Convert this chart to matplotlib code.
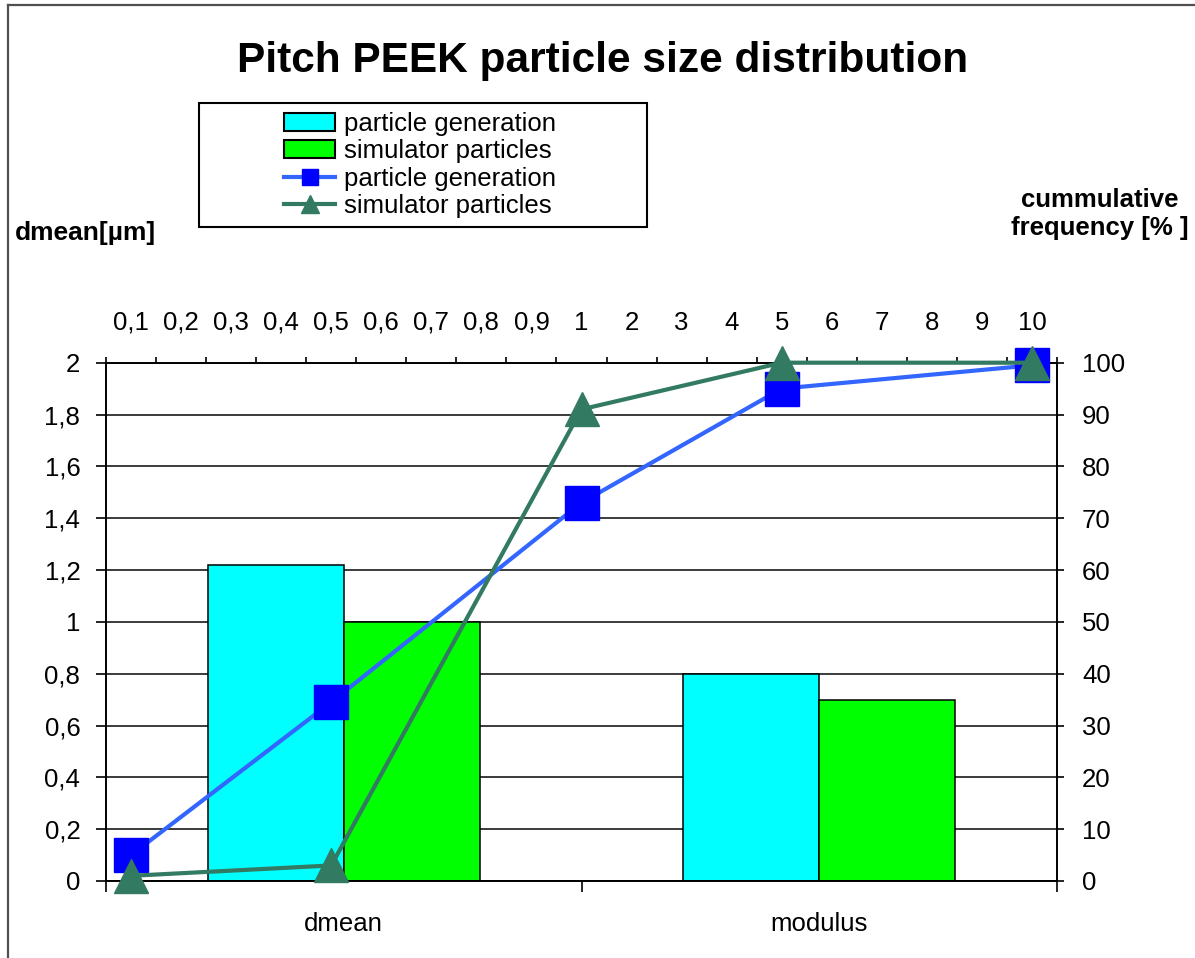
import matplotlib
matplotlib.use("Agg")
import matplotlib.pyplot as plt
from matplotlib.patches import Patch, Rectangle
from matplotlib.lines import Line2D
from matplotlib.ticker import FixedLocator, NullFormatter, FixedFormatter

plt.rcParams['font.family'] = ['Liberation Sans', 'DejaVu Sans']

# ---- data -------------------------------------------------------------
groups = ["dmean", "modulus"]
bar_generation = [1.22, 0.80]
bar_simulator = [1.00, 0.70]

size_labels = ["0,1", "0,2", "0,3", "0,4", "0,5", "0,6", "0,7", "0,8", "0,9",
               "1", "2", "3", "4", "5", "6", "7", "8", "9", "10"]
cum_generation = [5, None, None, None, 34.5, None, None, None, None, 73,
                  None, None, None, 95, None, None, None, None, 99.5]
cum_simulator = [1, None, None, None, 3, None, None, None, None, 91,
                 None, None, None, 100, None, None, None, None, 100]

left_ticks = [0, 0.2, 0.4, 0.6, 0.8, 1.0, 1.2, 1.4, 1.6, 1.8, 2.0]
left_labels = ["0", "0,2", "0,4", "0,6", "0,8", "1", "1,2", "1,4", "1,6", "1,8", "2"]
right_ticks = [0, 10, 20, 30, 40, 50, 60, 70, 80, 90, 100]

# ---- colours ----------------------------------------------------------
C_CYAN = "#00FFFF"
C_GREEN = "#00FF00"
C_BLUE_LINE = "#3366FF"
C_BLUE_MARK = "#0000FF"
C_SEA = "#337A62"

W, H = 1195, 958
fig = plt.figure(figsize=(W / 100, H / 100), dpi=100)


def fx(px):
    return px / W


def fy(py):
    return 1 - py / H


# chart frame
fig.add_artist(Line2D([fx(8), fx(8)], [fy(5), 0], color="#505050", lw=1.6))
fig.add_artist(Line2D([fx(8), 1], [fy(5), fy(5)], color="#505050", lw=1.6))

x0, x1, ytop, ybot = 106, 1057, 362.7, 881
pos = [fx(x0), fy(ybot), fx(x1) - fx(x0), fy(ytop) - fy(ybot)]

ax = fig.add_axes(pos)
ax.set_facecolor("white")
ax.set_xlim(0, len(groups))
ax.set_ylim(0, 2)

# bars: gap width 150% -> each bar = 1/3.5 of a category
bw = 1 / 3.5
centers = [i + 0.5 for i in range(len(groups))]
ax.bar([c - bw / 2 for c in centers], bar_generation, width=bw, color=C_CYAN,
       edgecolor="black", linewidth=1.1, zorder=2)
ax.bar([c + bw / 2 for c in centers], bar_simulator, width=bw, color=C_GREEN,
       edgecolor="black", linewidth=1.1, zorder=2)

ax.set_axisbelow(True)
ax.yaxis.set_major_locator(FixedLocator(left_ticks))
ax.yaxis.set_major_formatter(FixedFormatter(left_labels))
ax.yaxis.grid(True, color="#1a1a1a", linewidth=1.2)
ax.tick_params(axis="y", direction="out", length=7.5, width=1.2, pad=11,
               labelsize=18.5, colors="black")

ax.xaxis.set_major_locator(FixedLocator(range(len(groups) + 1)))
ax.xaxis.set_major_formatter(NullFormatter())
ax.xaxis.set_minor_locator(FixedLocator(centers))
ax.xaxis.set_minor_formatter(FixedFormatter(groups))
ax.tick_params(axis="x", which="major", direction="out", length=8, width=1.2)
ax.tick_params(axis="x", which="minor", length=0, pad=22, labelsize=18.5)
for s in ("top", "right"):
    ax.spines[s].set_visible(False)
for s in ("left", "bottom"):
    ax.spines[s].set_linewidth(1.4)

# secondary axes: size classes on top, cumulative frequency on the right
ax2 = fig.add_axes(pos, facecolor="none")
n = len(size_labels)
ax2.set_xlim(0, n)
ax2.set_ylim(0, 100)
ax2.xaxis.tick_top()
ax2.yaxis.tick_right()
ax2.xaxis.set_major_locator(FixedLocator(range(n + 1)))
ax2.xaxis.set_major_formatter(NullFormatter())
ax2.xaxis.set_minor_locator(FixedLocator([i + 0.5 for i in range(n)]))
ax2.xaxis.set_minor_formatter(FixedFormatter(size_labels))
ax2.tick_params(axis="x", which="major", direction="out", length=4.5, width=1.2)
ax2.tick_params(axis="x", which="minor", length=0, pad=20, labelsize=18.5)
ax2.yaxis.set_major_locator(FixedLocator(right_ticks))
ax2.tick_params(axis="y", direction="out", length=5, width=1.2, pad=13,
                labelsize=18.5)
for s in ("left", "bottom"):
    ax2.spines[s].set_visible(False)
for s in ("top", "right"):
    ax2.spines[s].set_linewidth(1.4)


def valid(vals):
    xs = [i + 0.5 for i, v in enumerate(vals) if v is not None]
    ys = [v for v in vals if v is not None]
    return xs, ys


gx, gy = valid(cum_generation)
sx, sy = valid(cum_simulator)
ax2.plot(gx, gy, color=C_BLUE_LINE, lw=3.0, marker="s", markersize=24,
         markerfacecolor=C_BLUE_MARK, markeredgecolor=C_BLUE_MARK,
         clip_on=False, zorder=3)
ax2.plot(sx, sy, color=C_SEA, lw=3.0, marker="^", markersize=25,
         markerfacecolor=C_SEA, markeredgecolor=C_SEA, clip_on=False, zorder=4)

# titles and axis captions
fig.text(fx(603), fy(61), "Pitch PEEK particle size distribution",
         ha="center", va="center", fontsize=30.5, fontweight="bold")
fig.text(fx(15), fy(240), "dmean[µm]", ha="left", va="baseline",
         fontsize=19, fontweight="bold")
fig.text(fx(1100), fy(207), "cummulative", ha="center", va="baseline",
         fontsize=18.5, fontweight="bold")
fig.text(fx(1100), fy(235), "frequency [% ]", ha="center", va="baseline",
         fontsize=18.5, fontweight="bold")

# legend box and entries
fig.add_artist(Rectangle((fx(199), fy(227)), fx(647) - fx(199),
                         fy(103) - fy(227), transform=fig.transFigure,
                         facecolor="white", edgecolor="black", lw=1.5,
                         zorder=5))
handles = [
    Patch(facecolor=C_CYAN, edgecolor="black", linewidth=1.5),
    Patch(facecolor=C_GREEN, edgecolor="black", linewidth=1.5),
    Line2D([], [], color=C_BLUE_LINE, lw=3, marker="s", markersize=12,
           markerfacecolor=C_BLUE_MARK, markeredgecolor=C_BLUE_MARK),
    Line2D([], [], color=C_SEA, lw=3, marker="^", markersize=13,
           markerfacecolor=C_SEA, markeredgecolor=C_SEA),
]
labels = ["particle generation", "simulator particles",
          "particle generation", "simulator particles"]
leg = fig.legend(handles, labels, loc="center",
                 bbox_to_anchor=(fx(420), fy(165)), frameon=False,
                 fontsize=18.5, handlelength=1.95, handleheight=0.7,
                 handletextpad=0.35, labelspacing=0.14, borderpad=0)
leg.set_zorder(6)

fig.savefig("out.png", dpi=100, facecolor="white")
